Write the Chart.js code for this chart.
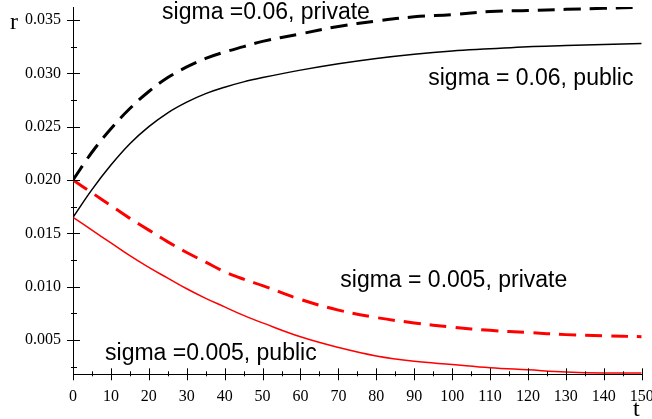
<!DOCTYPE html>
<html>
<head>
<meta charset="utf-8">
<script src="https://cdn.jsdelivr.net/npm/chart.js@4/dist/chart.umd.min.js"></script>
<style>
  html, body { margin: 0; padding: 0; background: #fff; }
  #wrap { width: 652px; height: 419px; }
</style>
</head>
<body>
<div id="wrap"><canvas id="chart"></canvas></div>
<script>
// time points
const tValues = [0, 5, 10, 15, 20, 25, 30, 35, 40, 45, 50, 60, 70, 80, 90, 100, 110, 120, 130, 140, 150];

// sigma = 0.06
const privateHigh = [0.0200, 0.0226, 0.0248, 0.0267, 0.0283, 0.0296, 0.0306, 0.0314, 0.0320, 0.0325, 0.0330,
                     0.0337, 0.0344, 0.0349, 0.0353, 0.0355, 0.0358, 0.0359, 0.0360, 0.0361, 0.0362];
const publicHigh  = [0.0165, 0.0191, 0.0214, 0.0234, 0.0250, 0.0263, 0.0273, 0.0281, 0.0287, 0.0292, 0.0296,
                     0.0303, 0.0309, 0.0314, 0.0318, 0.0321, 0.0323, 0.0325, 0.0326, 0.0327, 0.0328];
// sigma = 0.005
const privateLow  = [0.0200, 0.0188, 0.0176, 0.0164, 0.0153, 0.0142, 0.0132, 0.0123, 0.0114, 0.0107, 0.0101,
                     0.0088, 0.0078, 0.0071, 0.0066, 0.0062, 0.0059, 0.0057, 0.0055, 0.0054, 0.0053];
const publicLow   = [0.0165, 0.0153, 0.0141, 0.0129, 0.0118, 0.0108, 0.0098, 0.0089, 0.0081, 0.0073, 0.0066,
                     0.0053, 0.0043, 0.0035, 0.0030, 0.0027, 0.0024, 0.0022, 0.0020, 0.0019, 0.0019];

const xTicks = [0, 10, 20, 30, 40, 50, 60, 70, 80, 90, 100, 110, 120, 130, 140, 150];
const yTicks = [0.005, 0.010, 0.015, 0.020, 0.025, 0.030, 0.035];

// curve labels, anchored in data units
const curveLabels = [
  { text: "sigma =0.06, private",   t: 23.5, r: 0.03505 },
  { text: "sigma = 0.06, public",   t: 93.7, r: 0.02891 },
  { text: "sigma = 0.005, private", t: 70.5, r: 0.0100 },
  { text: "sigma =0.005, public",   t: 8.45, r: 0.00313 }
];

const pts = arr => arr.map((v, i) => ({ x: tValues[i], y: v }));

function series(data, color, dashed) {
  return {
    data: pts(data),
    borderColor: color,
    borderWidth: dashed ? 3 : 1.5,
    borderDash: dashed ? [17, 9] : [],
    pointRadius: 0,
    fill: false,
    tension: 0.4
  };
}

const serif = "'Liberation Serif', 'DejaVu Serif', serif";
const sans = "'Liberation Sans', Arial, sans-serif";

// crossing tick marks, axis letters and curve labels
const decor = {
  id: "decor",
  afterDraw(chart) {
    const ctx = chart.ctx;
    const xs = chart.scales.x, ys = chart.scales.y;
    const x0 = xs.getPixelForValue(0);
    const yb = ys.bottom;
    ctx.save();
    ctx.strokeStyle = "#000";
    ctx.lineWidth = 1;
    ctx.beginPath();
    for (let v = 0.0025; v <= ys.max + 1e-9; v += 0.0025) {
      const py = Math.round(ys.getPixelForValue(v)) + 0.5;
      const major = Math.abs(v / 0.005 - Math.round(v / 0.005)) < 1e-6;
      ctx.moveTo(major ? x0 - 6 : x0 - 2, py);
      ctx.lineTo(major ? x0 + 7 : x0 + 4, py);
    }
    for (let t = 0; t <= 150; t += 5) {
      const px = Math.round(xs.getPixelForValue(t)) + 0.5;
      const major = t % 10 === 0;
      ctx.moveTo(px, major ? yb - 6 : yb - 3);
      ctx.lineTo(px, major ? yb + 6 : yb + 2);
    }
    ctx.stroke();

    ctx.fillStyle = "#000";
    ctx.font = "24px " + serif;
    ctx.textAlign = "left";
    ctx.textBaseline = "alphabetic";
    ctx.fillText("r", 10, 29);
    ctx.fillText("t", 633, 416);

    ctx.font = "23px " + sans;
    curveLabels.forEach(l => {
      ctx.fillText(l.text, xs.getPixelForValue(l.t), ys.getPixelForValue(l.r));
    });
    ctx.restore();
  }
};

new Chart(document.getElementById("chart"), {
  type: "line",
  data: {
    datasets: [
      series(privateHigh, "#000000", true),
      series(publicHigh, "#000000", false),
      series(privateLow, "#ff0000", true),
      series(publicLow, "#ff0000", false)
    ]
  },
  options: {
    responsive: true,
    maintainAspectRatio: false,
    animation: false,
    layout: { padding: { top: 7, right: 10.3, left: 0, bottom: 0 } },
    plugins: { legend: { display: false }, tooltip: { enabled: false } },
    scales: {
      x: {
        type: "linear",
        min: 0,
        max: 150,
        afterBuildTicks: s => { s.ticks = xTicks.map(v => ({ value: v })); },
        afterFit: s => { s.height = 44.7; s.paddingLeft = 0; s.paddingRight = 0; },
        grid: { display: false, drawTicks: false },
        border: { display: true, color: "#000", width: 1 },
        ticks: {
          padding: 13,
          color: "#000",
          maxRotation: 0,
          autoSkip: false,
          font: { family: serif, size: 16 },
          callback: v => String(v)
        }
      },
      y: {
        type: "linear",
        min: 0.00178,
        max: 0.03622,
        afterBuildTicks: s => { s.ticks = yTicks.map(v => ({ value: v })); },
        afterFit: s => { s.width = 73; s.paddingTop = 0; s.paddingBottom = 0; },
        grid: { display: false, drawTicks: false },
        border: { display: true, color: "#000", width: 1 },
        ticks: {
          padding: 12,
          color: "#000",
          autoSkip: false,
          font: { family: serif, size: 16 },
          callback: v => v.toFixed(3)
        }
      }
    }
  },
  plugins: [decor]
});
</script>
</body>
</html>
